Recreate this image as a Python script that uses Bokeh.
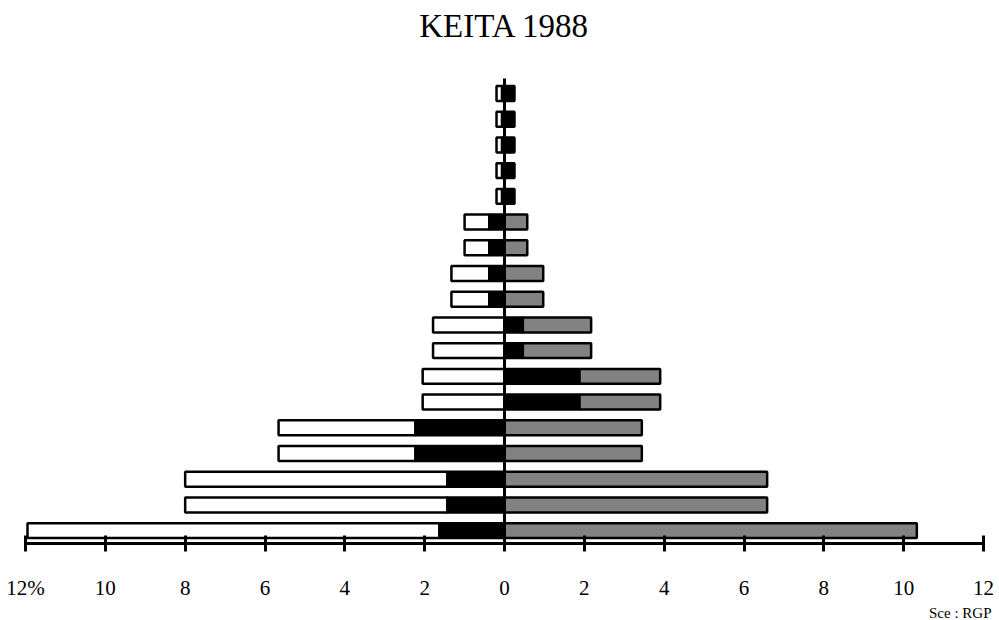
from bokeh.plotting import figure
from bokeh.models import Range1d, FixedTicker, Title
from bokeh.embed import file_html
from bokeh.resources import INLINE

# Age groups, bottom to top (5-year groups)
age_groups = ["0-4", "5-9", "10-14", "15-19", "20-24", "25-29", "30-34", "35-39",
              "40-44", "45-49", "50-54", "55-59", "60-64", "65-69", "70-74",
              "75-79", "80-84", "85+"]

# left side (%): total extent and the black part next to the axis
left_total = [11.95, 8.0, 8.0, 5.66, 5.66, 2.05, 2.05, 1.79, 1.79,
              1.33, 1.33, 1.0, 1.0, 0.2, 0.2, 0.2, 0.2, 0.2]
left_black = [1.63, 1.43, 1.43, 2.23, 2.23, 0.0, 0.0, 0.0, 0.0,
              0.38, 0.38, 0.38, 0.38, 0.06, 0.06, 0.06, 0.06, 0.06]
# right side (%): black part next to the axis and total extent
right_black = [0.0, 0.0, 0.0, 0.0, 0.0, 1.88, 1.88, 0.46, 0.46,
               0.0, 0.0, 0.0, 0.0, 0.25, 0.25, 0.25, 0.25, 0.25]
right_total = [10.33, 6.58, 6.58, 3.44, 3.44, 3.9, 3.9, 2.17, 2.17,
               0.97, 0.97, 0.57, 0.57, 0.25, 0.25, 0.25, 0.25, 0.25]

tick_values = [-12, -10, -8, -6, -4, -2, 0, 2, 4, 6, 8, 10, 12]
tick_labels = ["12%", "10", "8", "6", "4", "2", "0", "2", "4", "6", "8", "10", "12"]

title_text = "KEITA 1988"
source_text = "Sce : RGP"

FONT = "Liberation Serif"

p = figure(width=999, height=620, output_backend="svg", toolbar_location=None,
           x_range=Range1d(-12, 12), y_range=Range1d(-0.5, 18.75),
           min_border_left=25, min_border_right=16, min_border_top=48,
           min_border_bottom=74)
p.outline_line_color = None
p.grid.visible = False
p.yaxis.visible = False
p.background_fill_color = "white"
p.border_fill_color = "white"

p.title.text = title_text
p.title.align = "center"
p.title.vertical_align = "middle"
p.title.standoff = 8
p.title.text_font = FONT
p.title.text_font_size = "33px"
p.title.text_font_style = "normal"
p.title.text_color = "black"

ax = p.xaxis[0]
ax.ticker = FixedTicker(ticks=tick_values)
ax.major_label_overrides = {t: lab for t, lab in zip(tick_values, tick_labels)}
ax.axis_line_width = 3
ax.major_tick_line_width = 3
ax.major_tick_in = 8
ax.major_tick_out = 8
ax.minor_tick_line_color = None
ax.major_label_text_font = FONT
ax.major_label_text_font_size = "21px"
ax.major_label_text_color = "black"
ax.major_label_standoff = 24

src = Title(text=source_text, align="right", offset=-8, standoff=0,
            text_font=FONT, text_font_size="15px", text_font_style="normal",
            text_color="black")
p.add_layout(src, "below")

ys = list(range(len(age_groups)))
H = 0.58

white_left = [-v for v in left_total]
white_right = [-v for v in left_black]
p.hbar(y=ys, left=white_left, right=white_right, height=H,
       fill_color="white", line_color="black", line_width=2.5)

blk_left = [-v for v in left_black]
p.hbar(y=ys, left=blk_left, right=right_black, height=H,
       fill_color="black", line_color="black", line_width=2.5)

g_y = [y for y, a, b in zip(ys, right_black, right_total) if b > a]
g_l = [a for a, b in zip(right_black, right_total) if b > a]
g_r = [b for a, b in zip(right_black, right_total) if b > a]
p.hbar(y=g_y, left=g_l, right=g_r, height=H,
       fill_color="#828282", line_color="black", line_width=2.5)

# zero axis line
p.segment(x0=[0], y0=[-0.5], x1=[0], y1=[17.58], line_color="black", line_width=3)

open("out.html", "w").write(file_html(p, INLINE))
